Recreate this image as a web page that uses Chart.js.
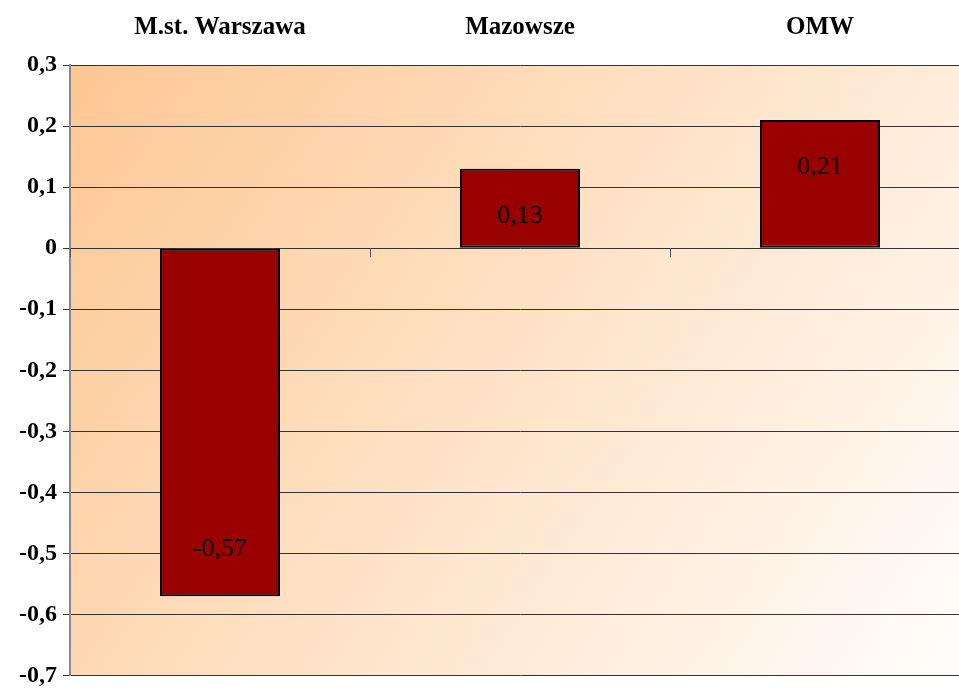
<!DOCTYPE html>
<html>
<head>
<meta charset="utf-8">
<script src="https://cdn.jsdelivr.net/npm/chart.js@4"></script>
<style>
  html, body { margin: 0; padding: 0; background: #fff; overflow: hidden; }
  #wrap { width: 970px; height: 696px; }
</style>
</head>
<body>
<div id="wrap"><canvas id="chart"></canvas></div>
<script>
// dane
const categories = ["M.st. Warszawa", "Mazowsze", "OMW"];
const values = [-0.57, 0.13, 0.21];
const yMin = -0.7;
const yMax = 0.3;
const yStep = 0.1;

const serif = "'Liberation Serif', 'Times New Roman', serif";

function fmt(v) {
  return String(Math.round(v * 100) / 100).replace(".", ",");
}

// tło z gradientem w obszarze wykresu
const bgPlugin = {
  id: "bg",
  beforeDraw(chart) {
    const { ctx, chartArea: a } = chart;
    const g = ctx.createLinearGradient(a.left, a.top, a.right, a.bottom);
    g.addColorStop(0, "#fec793");
    g.addColorStop(0.5, "#ffe3c8");
    g.addColorStop(1, "#fffefd");
    ctx.save();
    ctx.fillStyle = g;
    ctx.fillRect(a.left, a.top, a.right - a.left, a.bottom - a.top);
    ctx.restore();
  }
};

// kreski podziału kategorii na linii zera + etykiety wartości
const extrasPlugin = {
  id: "extras",
  afterDatasetsDraw(chart) {
    const { ctx } = chart;
    const x = chart.scales.x, y = chart.scales.y;
    const y0 = y.getPixelForValue(0);
    ctx.save();
    ctx.strokeStyle = "#555";
    ctx.lineWidth = 1;
    for (let i = 0; i < categories.length; i++) {
      const px = Math.round(x.getPixelForValue(i - 0.5)) + 0.5;
      ctx.beginPath();
      ctx.moveTo(px, y0);
      ctx.lineTo(px, y0 + 9);
      ctx.stroke();
    }
    ctx.fillStyle = "#000";
    ctx.font = "26px " + serif;
    ctx.textAlign = "center";
    ctx.textBaseline = "middle";
    chart.getDatasetMeta(0).data.forEach((bar, i) => {
      const dir = values[i] >= 0 ? 1 : -1;
      ctx.fillText(fmt(values[i]), bar.x, bar.y + dir * 47);
    });
    ctx.restore();
  }
};

new Chart(document.getElementById("chart"), {
  type: "bar",
  data: {
    labels: categories,
    datasets: [{
      data: values,
      backgroundColor: "#990000",
      borderColor: "#000",
      borderWidth: 2,
      borderSkipped: false,
      categoryPercentage: 1,
      barPercentage: 0.4
    }]
  },
  options: {
    responsive: true,
    maintainAspectRatio: false,
    animation: false,
    layout: { padding: 0 },
    plugins: {
      legend: { display: false },
      tooltip: { enabled: false }
    },
    scales: {
      x: {
        position: "top",
        grid: { display: false, drawTicks: false },
        border: { display: false },
        ticks: {
          color: "#000",
          padding: 22,
          font: { family: serif, size: 25, weight: "bold" }
        },
        afterFit(s) { s.height = 65; }
      },
      y: {
        min: yMin,
        max: yMax,
        grid: { color: "#333", lineWidth: 1, tickLength: 7, tickColor: "#333" },
        border: { display: true, color: "#888", width: 2 },
        ticks: {
          stepSize: yStep,
          color: "#000",
          padding: 6,
          font: { family: serif, size: 24, weight: "bold" },
          callback: v => fmt(v)
        },
        afterFit(s) { s.width = 70; }
      }
    }
  },
  plugins: [bgPlugin, extrasPlugin]
});
</script>
</body>
</html>
